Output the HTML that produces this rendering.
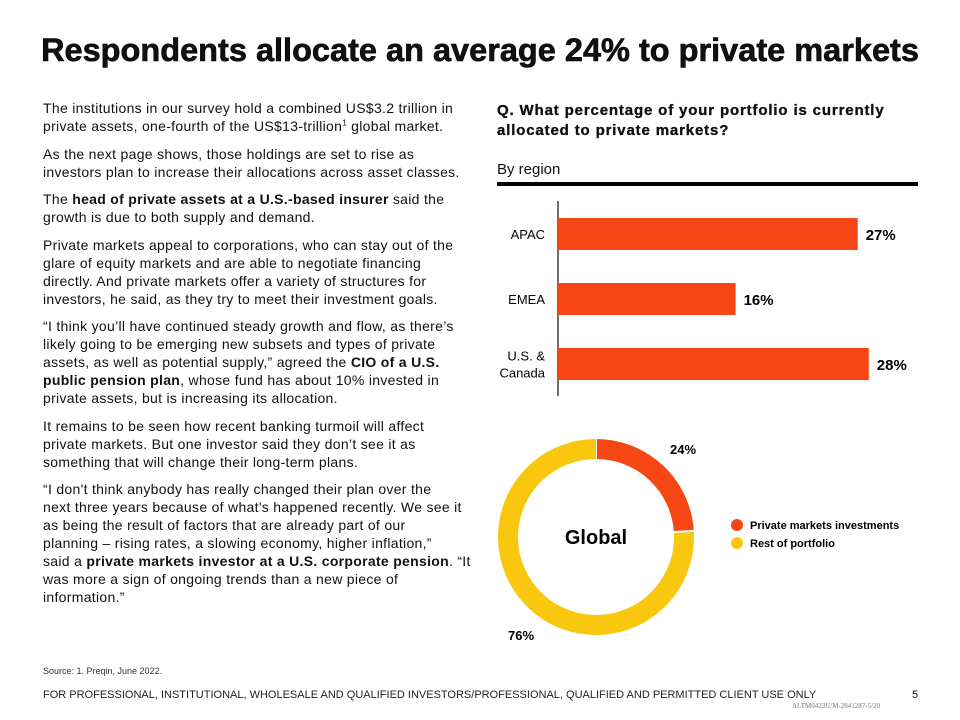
<!DOCTYPE html>
<html><head><meta charset="utf-8"><style>
body{margin:0;width:960px;height:720px;background:#fff;font-family:"Liberation Sans",sans-serif;color:#111;position:relative;overflow:hidden}
.a{position:absolute}
h1{position:absolute;left:0;width:960px;top:32px;margin:0;text-align:center;font-size:32.5px;font-weight:900;letter-spacing:0px;-webkit-text-stroke:0.6px #000}
.txt{left:43px;top:99px;width:440px;font-size:14px;letter-spacing:0.3px;line-height:18px;white-space:nowrap}
.txt p{margin:0 0 9.5px 0}
</style></head><body>
<h1>Respondents allocate an average 24% to private markets</h1>
<div class="a txt">
<p>The institutions in our survey hold a combined US$3.2 trillion in<br>private assets, one-fourth of the US$13-trillion<sup style="font-size:8px;line-height:0">1</sup> global market.</p>
<p>As the next page shows, those holdings are set to rise as<br>investors plan to increase their allocations across asset classes.</p>
<p>The <b>head of private assets at a U.S.-based insurer</b> said the<br>growth is due to both supply and demand.</p>
<p>Private markets appeal to corporations, who can stay out of the<br>glare of equity markets and are able to negotiate financing<br>directly. And private markets offer a variety of structures for<br>investors, he said, as they try to meet their investment goals.</p>
<p>“I think you’ll have continued steady growth and flow, as there’s<br>likely going to be emerging new subsets and types of private<br>assets, as well as potential supply,” agreed the <b>CIO of a U.S.<br>public pension plan</b>, whose fund has about 10% invested in<br>private assets, but is increasing its allocation.</p>
<p>It remains to be seen how recent banking turmoil will affect<br>private markets. But one investor said they don’t see it as<br>something that will change their long-term plans.</p>
<p>“I don't think anybody has really changed their plan over the<br>next three years because of what's happened recently. We see it<br>as being the result of factors that are already part of our<br>planning – rising rates, a slowing economy, higher inflation,”<br>said a <b>private markets investor at a U.S. corporate pension</b>. “It<br>was more a sign of ongoing trends than a new piece of<br>information.”</p>
</div>
<div class="a" style="left:497px;top:101px;font-size:15px;font-weight:bold;line-height:20px;letter-spacing:0.85px;-webkit-text-stroke:0.3px #000">Q. What percentage of your portfolio is currently<br>allocated to private markets?</div>
<div class="a" style="left:497px;top:161px;font-size:15px">By region</div>
<div class="a" style="left:497px;top:182px;width:421px;height:4px;background:#000"></div>
<svg class="a" style="left:0;top:0" width="960" height="720" id="chart"></svg>
<div class="a" style="left:43px;top:666px;font-size:9px;color:#333">Source: 1. Preqin, June 2022.</div>
<div class="a" style="left:43px;top:689px;font-size:11px;color:#222">FOR PROFESSIONAL, INSTITUTIONAL, WHOLESALE AND QUALIFIED INVESTORS/PROFESSIONAL, QUALIFIED AND PERMITTED CLIENT USE ONLY</div>
<div class="a" style="left:912px;top:689px;font-size:11px">5</div>
<div class="a" style="left:792px;top:702px;font-size:7px;color:#777;font-family:'Liberation Serif',serif">ALTM0423U/M-2841287-5/20</div>
<script>
const categories=["APAC","EMEA","U.S. & Canada"];
const values=[27,16,28];
const valueLabels=["27%","16%","28%"];
const pieLabels=["Private markets investments","Rest of portfolio"];
const pieValues=[24,76];
const NS="http://www.w3.org/2000/svg";
const svg=document.getElementById('chart');
function mk(t,a){const e=document.createElementNS(NS,t);for(const k in a)e.setAttribute(k,a[k]);svg.appendChild(e);return e;}
const x0=558,scale=11.1,yTop=218,step=65,bh=32;
const xs=v=>x0+v*scale, ys=i=>yTop+i*step;
const ax=mk('line',{x1:x0,x2:x0,y1:201,y2:396,stroke:'#111','stroke-width':1.2});


categories.forEach((c,i)=>{
 const r=mk('rect',{x:x0,y:ys(i),width:xs(values[i])-x0,height:bh,fill:'#f64614'});
 
 
 const t=mk('text',{x:xs(values[i])+8,y:ys(i)+bh/2+6,'font-size':15,'font-weight':'bold','font-family':'Liberation Sans'});
 t.textContent=valueLabels[i];
 
 
 const l=mk('text',{x:545,'text-anchor':'end','font-size':13,'font-family':'Liberation Sans'});
 
 
 const parts=c==="U.S. & Canada"?["U.S. &","Canada"]:[c];
 parts.forEach((p,j)=>{const s=document.createElementNS(NS,'tspan');s.setAttribute('x',545);s.setAttribute('y',ys(i)+bh/2+5+(j-(parts.length-1)/2)*17);s.textContent=p;l.appendChild(s);});
});
const cx=596,cy=537,R=88,W=20,colors=['#f64614','#f9c80e'];
const total=pieValues.reduce((a,b)=>a+b,0);let acc=0;
pieValues.forEach((v,i)=>{
 const a0=acc/total*2*Math.PI,a1=(acc+v)/total*2*Math.PI;acc+=v;
 const p=(a,r)=>[cx+r*Math.sin(a),cy-r*Math.cos(a)];
 const [x1,y1]=p(a0,R),[x2,y2]=p(a1,R);const large=(a1-a0)>Math.PI?1:0;
 const path=mk('path',{d:`M${x1},${y1}A${R},${R} 0 ${large} 1 ${x2},${y2}`,fill:'none',stroke:colors[i],'stroke-width':W});
 
 
 const sep=mk('line',{x1:p(a0,R-W/2-1)[0],y1:p(a0,R-W/2-1)[1],x2:p(a0,R+W/2+1)[0],y2:p(a0,R+W/2+1)[1],stroke:'#fff','stroke-width':2});
 
 
 const lt=mk('text',{'font-size':13,'font-weight':'bold','font-family':'Liberation Sans'});
 if(i===0){lt.setAttribute('x',670);lt.setAttribute('y',454);}else{lt.setAttribute('x',508);lt.setAttribute('y',640);}
 lt.textContent=v+'%';
 
 
 const dot=mk('circle',{cx:737,cy:525+i*18,r:6,fill:colors[i]});
 
 
 const lg=mk('text',{x:750,y:529+i*18,'font-size':11,'font-weight':'bold','font-family':'Liberation Sans'});
 lg.textContent=pieLabels[i];
 
 
});
const g=mk('text',{x:cx,y:cy+7,'text-anchor':'middle','font-size':20,'font-weight':'bold','font-family':'Liberation Sans'});
g.textContent='Global';


</script>
</body></html>
